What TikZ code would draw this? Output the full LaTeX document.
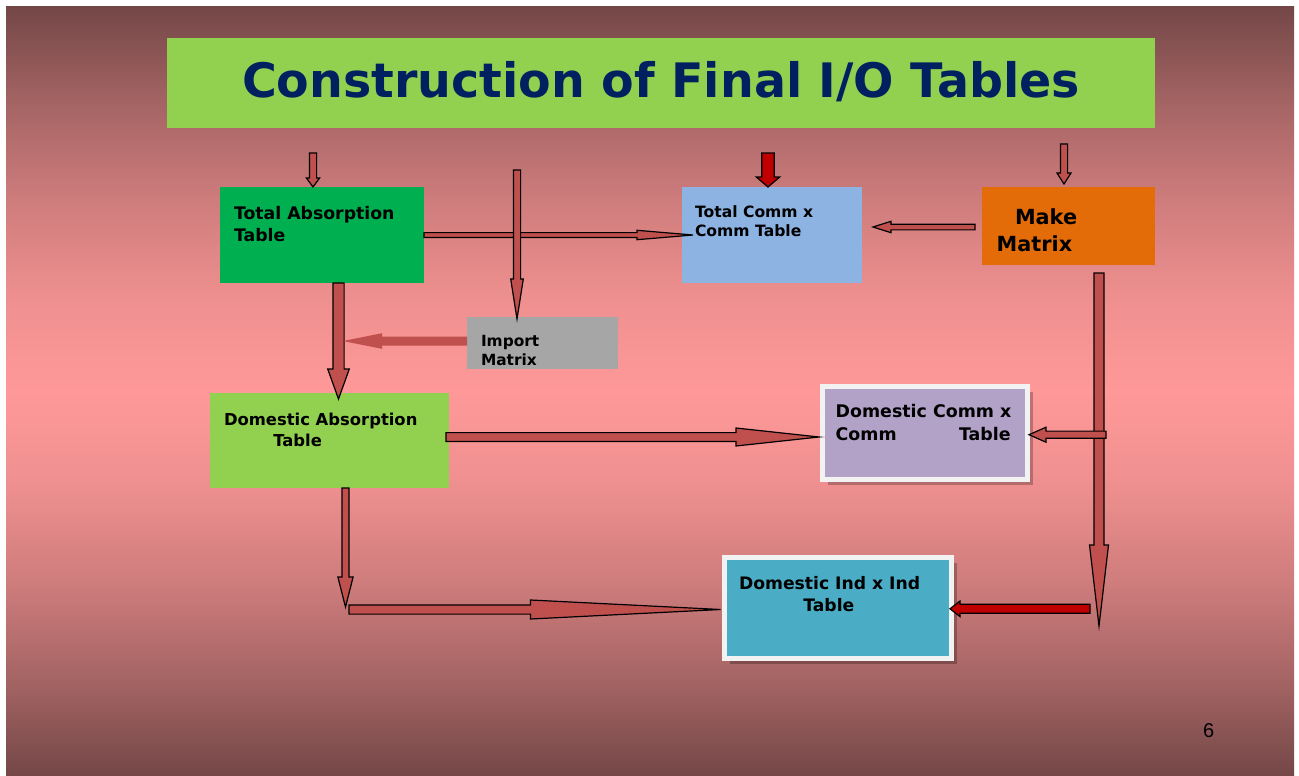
\documentclass[tikz,border=0pt]{standalone}
\usepackage{fontspec}
\setmainfont{DejaVu Sans}
\newfontfamily\pagenumfont{Liberation Sans}
\usetikzlibrary{calc,shadows}

\definecolor{slidedark}{RGB}{116,71,71}
\definecolor{slidemid}{RGB}{165,100,100}
\definecolor{slidewarm}{RGB}{206,124,124}
\definecolor{slidepale}{RGB}{238,143,143}
\definecolor{slidelight}{RGB}{255,153,153}
\definecolor{titlegreen}{RGB}{146,208,80}
\definecolor{titlenavy}{RGB}{0,32,96}
\definecolor{tabgreen}{RGB}{0,176,80}
\definecolor{commblue}{RGB}{141,179,226}
\definecolor{makeorange}{RGB}{227,108,9}
\definecolor{importgray}{RGB}{166,166,166}
\definecolor{domlilac}{RGB}{178,162,199}
\definecolor{indteal}{RGB}{75,172,198}
\definecolor{framewhite}{RGB}{242,242,242}
\definecolor{arrowred}{RGB}{192,80,77}
\definecolor{deepred}{RGB}{192,0,0}

% slide background: dark at top and bottom, pale band through the middle
\pgfdeclareverticalshading{slidebg}{100bp}{%
  color(0bp)=(slidedark); color(25bp)=(slidedark);
  color(31.25bp)=(slidemid); color(37.5bp)=(slidewarm); color(43.75bp)=(slidepale);
  color(50bp)=(slidelight);
  color(56.25bp)=(slidepale); color(62.5bp)=(slidewarm); color(68.75bp)=(slidemid);
  color(75bp)=(slidedark); color(100bp)=(slidedark)}

\tikzset{
  box/.style={anchor=north west, inner sep=0pt, outer sep=0pt},
  framedbox/.style={anchor=center, inner sep=0pt, outer sep=0pt,
    draw=framewhite, line width=5pt,
    drop shadow={shadow xshift=5pt, shadow yshift=-5pt, fill=black, opacity=0.25}},
  txt/.style={anchor=base west, inner sep=0pt, outer sep=0pt,
    font=\bfseries\fontsize{#1}{#1}\selectfont},
  blockarrowstyle/.style={draw=black, line width=1.2pt, line join=miter, fill=arrowred},
}

% Block arrow: [extra style]{tail}{tip}{shaft half width}{head half width}{head length}
\newcommand\blockarrow[6][]{%
  \path let \p1=#2, \p2=#3 in \pgfextra{%
      \pgfmathsetmacro\baangle{atan2(\y2-\y1,\x2-\x1)}%
      \pgfmathsetmacro\balength{veclen(\x2-\x1,\y2-\y1)}%
      \xdef\baangle{\baangle}\xdef\balength{\balength}%
      \xdef\bax{\x1}\xdef\bay{\y1}};
  \filldraw[blockarrowstyle,#1,shift={(\bax,\bay)},rotate=\baangle]
    (0pt,#4) -- (\balength pt-#6,#4) -- (\balength pt-#6,#5) -- (\balength pt,0pt)
    -- (\balength pt-#6,-#5) -- (\balength pt-#6,-#4) -- (0pt,-#4) -- cycle;
}

\begin{document}
\begin{tikzpicture}[x=1pt,y=-1pt]
  % page and slide background
  \fill[white] (0,0) rectangle (1299,776);
  \shade[shading=slidebg] (6,7) rectangle (1294,776);
  \useasboundingbox (0,0) rectangle (1299,776);

  % title banner
  \node[box, fill=titlegreen, minimum width=988pt, minimum height=90pt] (banner) at (167,38) {};
  \node[anchor=base, inner sep=0pt, text=titlenavy,
        font=\bfseries\fontsize{47.5}{47.5}\selectfont] (title) at (661,98)
        {Construction of Final I/O Tables};

  % table boxes
  \node[box, fill=tabgreen,    minimum width=204pt, minimum height=96pt] (tat)  at (220,187) {};
  \node[box, fill=commblue,    minimum width=180pt, minimum height=96pt] (tcc)  at (682,187) {};
  \node[box, fill=makeorange,  minimum width=173pt, minimum height=78pt] (make) at (982,187) {};
  \node[box, fill=importgray,  minimum width=151pt, minimum height=52pt] (imp)  at (467,317) {};
  \node[box, fill=titlegreen,  minimum width=239pt, minimum height=95pt] (dat)  at (210,393) {};
  \node[framedbox, fill=domlilac, minimum width=205pt, minimum height=93pt]  (dcc) at (925,433) {};
  \node[framedbox, fill=indteal,  minimum width=227pt, minimum height=101pt] (dii) at (838,608) {};

  % box labels
  \node[txt=17.3] (tat1) at (234,219)   {Total Absorption};
  \node[txt=17.3] (tat2) at (234,241.7) {Table};
  \node[txt=15.6] (tcc1) at (695,217.3) {Total Comm x};
  \node[txt=15.6] (tcc2) at (695,236.7) {Comm Table};
  \node[txt=20.8] (mk1)  at (1015,224)  {Make};
  \node[txt=20.8] (mk2)  at (996.7,251.7) {Matrix};
  \node[txt=15.4] (im1)  at (481,346)   {Import};
  \node[txt=15.4] (im2)  at (481,365.7) {Matrix};
  \node[txt=16.4] (da1)  at (224,425)   {Domestic Absorption};
  \node[txt=16.4] (da2)  at (273.3,446.7) {Table};
  \node[txt=17.4] (dc1)  at (835.7,417.3) {Domestic Comm x};
  \node[txt=17.4] (dc2)  at (835.7,440) {Comm};
  \node[txt=17.4] (dc3)  at (959,440)   {Table};
  \node[txt=17.2] (di1)  at (739,589.3) {Domestic Ind x Ind};
  \node[txt=17.2] (di2)  at (803.3,611.7) {Table};

  % block arrows
  \blockarrow{($(tat.north west)+(93,-34)$)}{($(tat.north west)+(93,0)$)}{3.6pt}{6.6pt}{9pt}
  \blockarrow{($(tat.north east)+(0,48)$)}{($(tcc.north west)+(11,48)$)}{2.4pt}{4.7pt}{56pt}
  \blockarrow{($(imp.north west)+(50,-147)$)}{($(imp.north west)+(50,2)$)}{3.6pt}{6.3pt}{40pt}
  \blockarrow[fill=deepred]{($(tcc.north west)+(86,-34)$)}{($(tcc.north west)+(86,0)$)}{6.2pt}{11.7pt}{10pt}
  \blockarrow{($(make.north west)+(82,-43)$)}{($(make.north west)+(82,-3)$)}{3.6pt}{7pt}{11pt}
  \blockarrow{($(make.north west)+(-7,40)$)}{($(tcc.north east)+(11,40)$)}{2.85pt}{5.7pt}{18pt}
  \blockarrow{($(tat.south west)+(118.5,0)$)}{($(dat.north west)+(128.5,6)$)}{5.6pt}{10.8pt}{30pt}
  \blockarrow[draw=none]{($(imp.west)+(0,-2)$)}{($(imp.west)+(-124,-2)$)}{4.5pt}{7.8pt}{39pt}
  \blockarrow{($(dat.north east)+(-3,44)$)}{($(dcc.west)+(-3.5,4)$)}{4.4pt}{9pt}{83pt}
  \blockarrow{($(make.south west)+(117,8)$)}{($(make.south west)+(117,361)$)}{5pt}{9.5pt}{81pt}
  \blockarrow{($(dcc.east)+(78.5,1.7)$)}{($(dcc.east)+(1.5,1.7)$)}{3.6pt}{7.5pt}{17pt}
  \blockarrow{($(dat.south west)+(135.5,0)$)}{($(dat.south west)+(135.5,119)$)}{3.5pt}{7.6pt}{30pt}
  \blockarrow{($(dat.south west)+(139,121.5)$)}{($(dii.west)+(-4,1.5)$)}{4.6pt}{9.5pt}{190pt}
  \blockarrow[fill=deepred]{($(dii.east)+(138.5,0.8)$)}{($(dii.east)+(-1.5,0.8)$)}{4.5pt}{7.8pt}{10pt}

  % slide number
  \node[anchor=base west, inner sep=0pt, font=\pagenumfont\fontsize{20}{20}\selectfont]
    (pagenum) at (1203,737) {6};
\end{tikzpicture}
\end{document}
